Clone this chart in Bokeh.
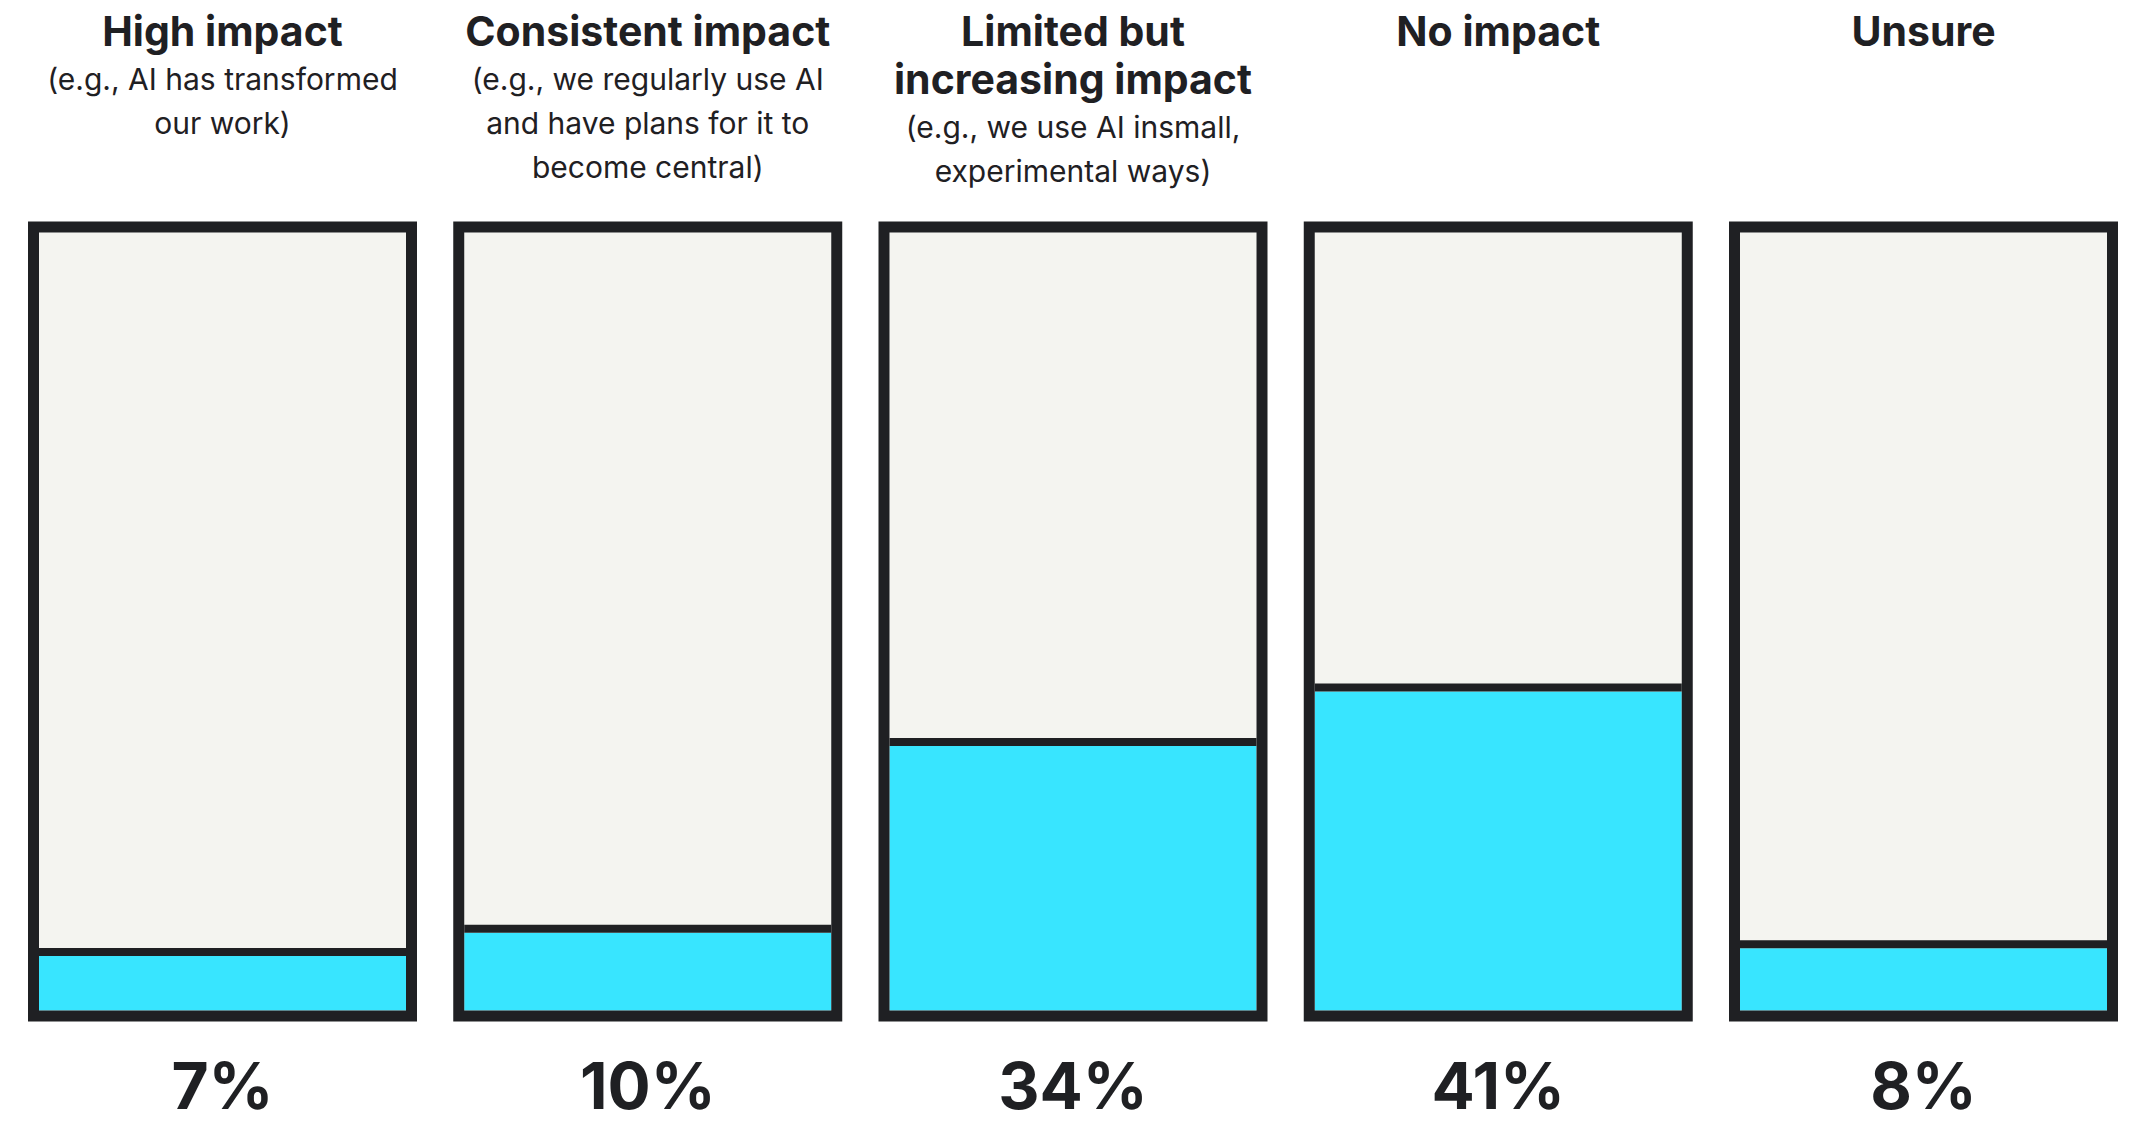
from bokeh.plotting import figure
from bokeh.models import Range1d, ColumnDataSource
from bokeh.core.properties import value
from bokeh.embed import file_html
from bokeh.resources import INLINE

# --- data -----------------------------------------------------------------
categories = ["High impact", "Consistent impact", "Limited but\nincreasing impact",
              "No impact", "Unsure"]
descriptions = [
    "(e.g., AI has transformed\nour work)",
    "(e.g., we regularly use AI\nand have plans for it to\nbecome central)",
    "(e.g., we use AI insmall,\nexperimental ways)",
    "",
    "",
]
shares = [7, 10, 34, 41, 8]
share_labels = ["7%", "10%", "34%", "41%", "8%"]

# --- layout / style --------------------------------------------------------
W, H = 2131, 1131
INK = "#1f2023"
CYAN = "#38e5ff"
PAPER = "#f4f4f0"

PITCH = 425.25          # px between column centres
FIRST_CENTER = 222.0    # px, first column centre from the left
OUTER_W = 389.0         # px, outer width of each box
FRAME = 11              # px, box border
DIVIDER = 8             # px, line on top of the filled part
INNER_BOTTOM = 121.0    # px from bottom of page to the inside floor of a box
PX_PER_PCT = 7.78       # px per percentage point

x_start = -FIRST_CENTER / PITCH
x_end = (W - FIRST_CENTER) / PITCH
y_start = -INNER_BOTTOM / PX_PER_PCT
y_end = (H - INNER_BOTTOM) / PX_PER_PCT


def y_from_top(px):
    """Convert a distance from the top of the page to a y value."""
    return (H - px - INNER_BOTTOM) / PX_PER_PCT


p = figure(width=W, height=H, output_backend="svg", toolbar_location=None,
           x_range=Range1d(x_start, x_end), y_range=Range1d(y_start, y_end),
           min_border=0, min_border_left=0, min_border_right=0,
           min_border_top=0, min_border_bottom=0)
p.axis.visible = False
p.xaxis.visible = False
p.yaxis.visible = False
p.grid.visible = False
p.outline_line_color = None
p.background_fill_color = "white"
p.border_fill_color = "white"

idx = list(range(len(categories)))
inner_half = (OUTER_W - 2 * FRAME) / 2 / PITCH
frame_half = (OUTER_W - FRAME) / 2 / PITCH
frame_pad = (FRAME / 2) / PX_PER_PCT
div_off = (DIVIDER / 2) / PX_PER_PCT

src = ColumnDataSource(dict(
    x=idx,
    left=[i - inner_half for i in idx],
    right=[i + inner_half for i in idx],
    fleft=[i - frame_half for i in idx],
    fright=[i + frame_half for i in idx],
    share=shares,
    div_y=[s + div_off for s in shares],
))

# empty part of each box
p.quad(left="left", right="right", bottom=0, top=100, source=src,
       fill_color=PAPER, line_color=None)
# filled share
p.quad(left="left", right="right", bottom=0, top="share", source=src,
       fill_color=CYAN, line_color=None)
# line on top of the fill
p.segment(x0="left", x1="right", y0="div_y", y1="div_y", source=src,
          line_color=INK, line_width=DIVIDER)
# outer frame
p.quad(left="fleft", right="fright", bottom=-frame_pad, top=100 + frame_pad,
       source=src, fill_color=None, line_color=INK, line_width=FRAME,
       line_join="miter")

# --- headings ----------------------------------------------------------------
TITLE_BASE = 30
TITLE_STEP = 48
SUB_GAP = 48
SUB_STEP = 44

tx, ty, tt = [], [], []
sx, sy, st = [], [], []
for i, (cat, desc) in enumerate(zip(categories, descriptions)):
    lines = cat.split("\n")
    base = TITLE_BASE
    for k, line in enumerate(lines):
        base = TITLE_BASE + k * TITLE_STEP
        tx.append(i)
        ty.append(y_from_top(base))
        tt.append(line)
    if desc:
        sub_base = base + SUB_GAP
        for k, line in enumerate(desc.split("\n")):
            sx.append(i)
            sy.append(y_from_top(sub_base + k * SUB_STEP))
            st.append(line)

p.text(x=tx, y=ty, text=tt, text_font=value("Inter"), text_font_style="bold",
       text_font_size=value("41px"), text_color=INK, text_align="center",
       text_baseline="alphabetic")
p.text(x=sx, y=sy, text=st, text_font=value("Inter"),
       text_font_size=value("30px"), text_color=INK, text_align="center",
       text_baseline="alphabetic")

# --- share labels -------------------------------------------------------------
p.text(x=idx, y=[y_from_top(1085)] * len(idx), text=share_labels,
       text_font=value("Inter"), text_font_style="bold",
       text_font_size=value("64px"), text_color=INK, text_align="center",
       text_baseline="alphabetic")

open("out.html", "w").write(file_html(p, INLINE))
